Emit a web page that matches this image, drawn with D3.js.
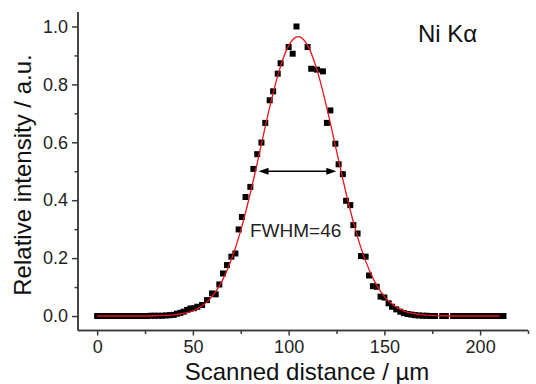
<!DOCTYPE html>
<html>
<head>
<meta charset="utf-8">
<script src="https://cdn.jsdelivr.net/npm/d3@7"></script>
<style>
  body { margin: 0; background: #fff; }
  svg { font-family: "Liberation Sans", Arial, sans-serif; }
</style>
</head>
<body>
<div id="chart"></div>
<script>
// measured points (scanned distance in um, relative intensity)
var distance = [0, 2, 4, 6, 8, 10, 12, 14, 16, 18, 20, 22, 24, 26, 28, 30, 32, 34, 36, 38,
    40, 41.7, 43.5, 45.2, 47, 48.7, 50.5, 52.3, 54.8, 57.4, 60, 61.9, 63.8, 65.7, 67.8, 70.1,
    72.2, 73.9, 75.6, 77.5, 80, 81.6, 83.6, 85.8, 87.8, 90.1, 91.9, 94.3, 95.8, 100, 102.1,
    104.1, 109.9, 111.8, 114.8, 117.9, 120, 121.8, 124.4, 126.1, 128.3, 130, 132.2, 133.8,
    136, 137.8, 140.2, 142, 144, 146, 148, 150, 152.2, 154, 156.2, 158.3, 160.2, 162.1, 164,
    166, 168, 170, 172, 174, 176.4, 180.2, 182.1, 185.9, 188, 190, 192, 194, 196, 198, 200,
    202, 204, 206, 208, 210, 212.2];
var intensity = [0, 0, 0, 0, 0, 0, 0, 0, 0, 0, 0, 0, 0, 0, 0.001, 0.001, 0.001, 0.001, 0.002, 0.003,
    0.004, 0.008, 0.011, 0.015, 0.021, 0.026, 0.027, 0.032, 0.038, 0.055, 0.078, 0.075, 0.109, 0.147, 0.176, 0.205,
    0.216, 0.299, 0.342, 0.411, 0.446, 0.508, 0.559, 0.599, 0.667, 0.745, 0.776, 0.837, 0.873, 0.929, 0.906,
    1.0, 0.929, 0.854, 0.851, 0.845, 0.667, 0.71, 0.595, 0.524, 0.49, 0.398, 0.383, 0.314,
    0.285, 0.207, 0.205, 0.14, 0.103, 0.101, 0.067, 0.064, 0.044, 0.032, 0.023, 0.015, 0.010, 0.007, 0.005,
    0.003, 0.002, 0.001, 0.001, 0, 0, 0, 0, 0, 0, 0, 0, 0, 0, 0, 0,
    0, 0, 0, 0, 0, 0];

// fitted curve
var fitX = [0, 20, 30, 40, 45, 50, 55, 60, 65, 70, 75, 80, 85, 90, 95, 100, 102.5, 105,
    107.5, 110, 115, 120, 125, 130, 135, 140, 145, 150, 155, 160, 165, 170, 180, 190, 210];
var fitY = [0, 0, 0.001, 0.004, 0.009, 0.018, 0.036, 0.067, 0.118, 0.193, 0.296, 0.424, 0.570, 0.718, 0.846, 0.934, 0.957, 0.965,
    0.957, 0.934, 0.846, 0.718, 0.570, 0.424, 0.296, 0.193, 0.118, 0.067, 0.036, 0.018, 0.009, 0.004, 0.001, 0, 0];

var xTicks = [0, 50, 100, 150, 200];
var xMinor = [25, 75, 125, 175, 225];
var yTicks = [0, 0.2, 0.4, 0.6, 0.8, 1.0];
var yMinor = [0.1, 0.3, 0.5, 0.7, 0.9];

var fwhmLabel = "FWHM=46";
var fwhmArrow = [84.3, 124.9];
var fwhmLevel = 0.5;
var lineLabel = "Ni K\u03b1";

var width = 536, height = 384;
var svg = d3.select("#chart")
    .append("svg")
    .attr("width", width)
    .attr("height", height);

var x = d3.scaleLinear().domain([-10, 225]).range([78, 528]);
var y = d3.scaleLinear().domain([-0.05, 1.05]).range([330.5, 12]);

var axisColor = "#3a3a3a";

// x axis
var gx = svg.append("g")
    .attr("transform", "translate(0,330.5)")
    .call(d3.axisBottom(x).tickValues(xTicks).tickSize(5).tickPadding(5).tickFormat(d3.format("d")));
gx.append("g")
    .call(d3.axisBottom(x).tickValues(xMinor).tickSize(3.5).tickFormat(""));
gx.selectAll(".domain").attr("d", "M" + x.range()[0] + ",0H" + x.range()[1]);

// y axis
var gy = svg.append("g")
    .attr("transform", "translate(78,0)")
    .call(d3.axisLeft(y).tickValues(yTicks).tickSize(6).tickPadding(4).tickFormat(d3.format(".1f")));
gy.append("g")
    .call(d3.axisLeft(y).tickValues(yMinor).tickSize(3.5).tickFormat(""));
gy.selectAll(".domain").attr("d", "M0," + y.range()[0] + "V" + y.range()[1]);

svg.selectAll(".domain, .tick line")
    .attr("stroke", axisColor)
    .attr("stroke-width", 1.5);
svg.selectAll(".tick text")
    .attr("fill", "#222")
    .style("font-size", "18px");

// axis titles
svg.append("text")
    .attr("x", 307)
    .attr("y", 380)
    .attr("text-anchor", "middle")
    .style("font-size", "24px")
    .attr("fill", "#111")
    .text("Scanned distance / \u00b5m");

svg.append("text")
    .attr("transform", "translate(31,175) rotate(-90)")
    .attr("text-anchor", "middle")
    .style("font-size", "24px")
    .attr("fill", "#111")
    .text("Relative intensity / a.u.");

// data squares
var pts = distance.map(function (d, i) { return [d, intensity[i]]; });
var size = 6;
svg.append("g").selectAll("rect")
    .data(pts)
    .enter()
    .append("rect")
    .attr("x", function (d) { return x(d[0]) - size / 2; })
    .attr("y", function (d) { return y(d[1]) - size / 2; })
    .attr("width", size)
    .attr("height", size)
    .attr("fill", "#000");

// fit curve
var fit = fitX.map(function (d, i) { return [d, fitY[i]]; });
var line = d3.line()
    .x(function (d) { return x(d[0]); })
    .y(function (d) { return y(d[1]); })
    .curve(d3.curveMonotoneX);
svg.append("path")
    .datum(fit)
    .attr("d", line)
    .attr("fill", "none")
    .attr("stroke", "#e8141c")
    .attr("stroke-width", 1.3);

// FWHM arrow
var ax0 = x(fwhmArrow[0]), ax1 = x(fwhmArrow[1]), ay = y(fwhmLevel);
svg.append("line")
    .attr("x1", ax0 + 4).attr("x2", ax1 - 4)
    .attr("y1", ay).attr("y2", ay)
    .attr("stroke", "#000")
    .attr("stroke-width", 1.5);
svg.append("path")
    .attr("d", "M" + ax0 + "," + ay + "l10,-3.5v7z")
    .attr("fill", "#000");
svg.append("path")
    .attr("d", "M" + ax1 + "," + ay + "l-10,-3.5v7z")
    .attr("fill", "#000");

svg.append("text")
    .attr("x", 250)
    .attr("y", 237)
    .style("font-size", "19px")
    .attr("fill", "#222")
    .text(fwhmLabel);

svg.append("text")
    .attr("x", 418)
    .attr("y", 42)
    .style("font-size", "24px")
    .attr("fill", "#111")
    .text(lineLabel);
</script>
</body>
</html>
